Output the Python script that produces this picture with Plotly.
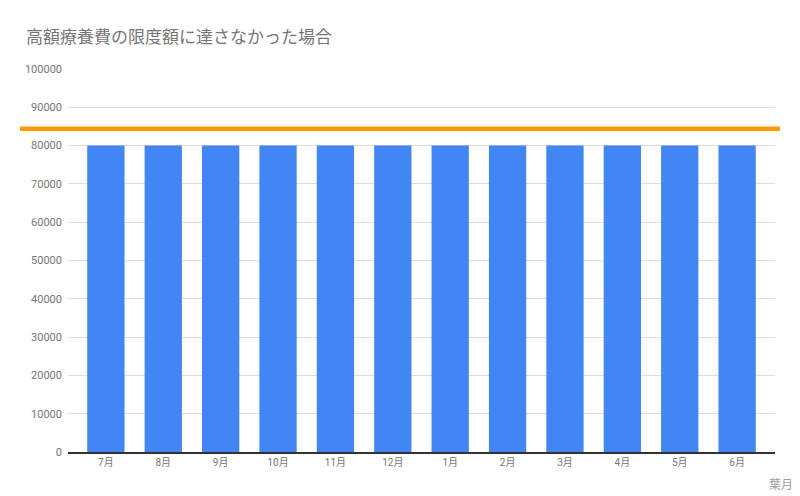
import plotly.graph_objects as go

# 月ごとの自己負担額
months = ["7月", "8月", "9月", "10月", "11月", "12月",
          "1月", "2月", "3月", "4月", "5月", "6月"]
payments = [80000] * 12
limit_value = 84430  # 限度額ライン
y_ticks = [0, 10000, 20000, 30000, 40000, 50000,
           60000, 70000, 80000, 90000, 100000]

fig = go.Figure()

fig.add_trace(go.Bar(
    x=months, y=payments,
    marker=dict(color="#4285f4", line=dict(width=0)),
    width=0.65,
    showlegend=False,
))

# orange limit line across the whole chart
fig.add_shape(type="line", xref="paper", yref="y",
              x0=-0.068, x1=1.007, y0=limit_value, y1=limit_value,
              line=dict(color="#ff9900", width=4.5), layer="above")

fig.add_annotation(text="葉月", xref="paper", yref="paper",
                   x=1.028, y=-0.086, xanchor="right", yanchor="middle",
                   showarrow=False, font=dict(size=12, color="#9e9e9e"))

# page body adds 8px margin, so figure is a bit smaller than the window
fig.update_layout(
    width=792, height=488,
    margin=dict(l=60, r=25, t=61, b=44),
    plot_bgcolor="white", paper_bgcolor="white",
    font=dict(family="Roboto, Noto Sans CJK JP, sans-serif", color="#757575"),
    title=dict(text="高額療養費の限度額に達さなかった場合",
               x=0.0227, xanchor="left", y=0.94, yanchor="middle",
               font=dict(size=17, color="#757575")),
    xaxis=dict(
        range=[-0.66, 11.66],
        showgrid=False, showline=True, linecolor="#333333", linewidth=1.5,
        ticks="", tickfont=dict(size=10, color="#757575"),
    ),
    yaxis=dict(
        range=[0, 100000], tickvals=y_ticks, tickformat="d",
        showgrid=True, gridcolor="#dddddd", gridwidth=1,
        zeroline=False, ticks="", ticklabelstandoff=5,
        tickfont=dict(size=11, color="#757575"),
        automargin=False,
    ),
    bargap=0.35,
)

fig.write_html("out.html")
